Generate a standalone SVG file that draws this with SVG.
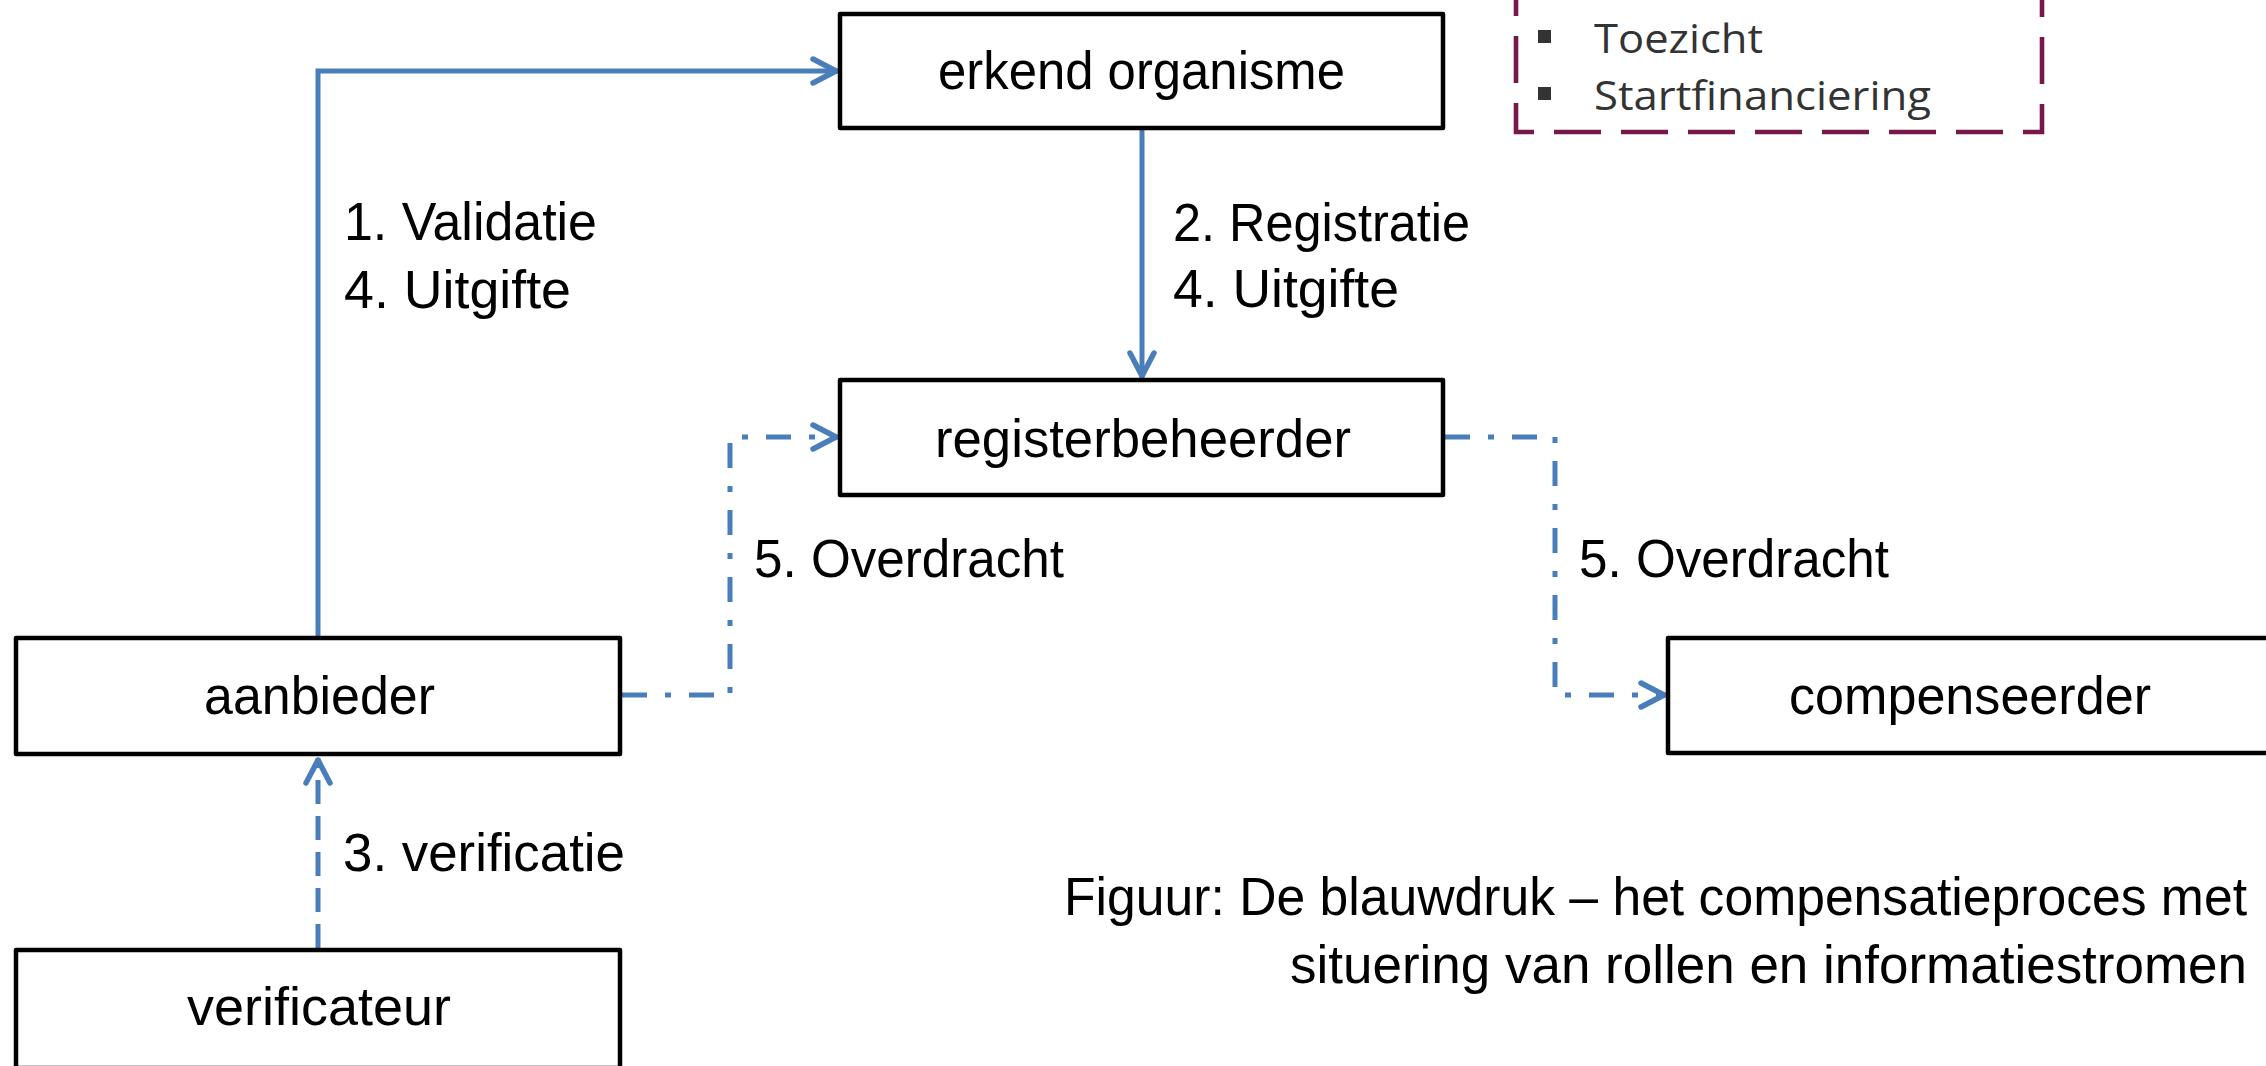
<svg xmlns="http://www.w3.org/2000/svg" width="2266" height="1066" viewBox="0 0 2266 1066">
<style>
.box{fill:#fff;stroke:#000;stroke-width:4.5;stroke-linejoin:round}
.lbl{font-family:"Liberation Sans",Arial,sans-serif;font-size:53px;fill:#000}
.lg{font-family:"Open Sans","Noto Sans",sans-serif;font-size:40px;fill:#333}
.c{fill:none;stroke:#4a7ebb;stroke-width:5}
.dash{stroke-dasharray:24 12}
.dd{stroke-dasharray:25 18 6 18}
</style>
<defs>
<marker id="arr" markerUnits="userSpaceOnUse" viewBox="-30 -20 40 40" markerWidth="40" markerHeight="40" refX="0" refY="0" orient="auto">
<path d="M-25,-12 L-2,0 L-25,12" fill="none" stroke="#4a7ebb" stroke-width="5.5" stroke-linecap="round" stroke-linejoin="round"/>
</marker>
</defs>
<rect width="2266" height="1066" fill="#fff"/>

<g id="legend">
<rect x="1516" y="-40" width="526" height="172" fill="none" stroke="#76184a" stroke-width="4.6" stroke-dasharray="47 20"/>
<rect x="1538" y="30" width="13" height="13" fill="#333"/>
<rect x="1538" y="87" width="13" height="13" fill="#333"/>
<text class="lg" x="1594" y="53" textLength="169" lengthAdjust="spacingAndGlyphs">Toezicht</text>
<text class="lg" x="1594" y="110" textLength="337" lengthAdjust="spacingAndGlyphs">Startfinanciering</text>
</g>

<g id="connectors">
<path class="c" d="M318,636 V71 H838" marker-end="url(#arr)"/>
<path class="c" d="M1142,130 V378" marker-end="url(#arr)"/>
<path class="c dash" d="M318,948 V758" marker-end="url(#arr)"/>
<path class="c dd" d="M622,695 H730 V437 H838" marker-end="url(#arr)"/>
<path class="c dd" d="M1445,437 H1555 V695 H1666" marker-end="url(#arr)"/>
<text class="lbl" x="344" y="240" textLength="253" lengthAdjust="spacingAndGlyphs">1. Validatie</text>
<text class="lbl" x="344" y="308" textLength="227" lengthAdjust="spacingAndGlyphs">4. Uitgifte</text>
<text class="lbl" x="1173" y="241" textLength="297" lengthAdjust="spacingAndGlyphs">2. Registratie</text>
<text class="lbl" x="1173" y="307" textLength="226" lengthAdjust="spacingAndGlyphs">4. Uitgifte</text>
<text class="lbl" x="754" y="577" textLength="310" lengthAdjust="spacingAndGlyphs">5. Overdracht</text>
<text class="lbl" x="1579" y="577" textLength="310" lengthAdjust="spacingAndGlyphs">5. Overdracht</text>
<text class="lbl" x="343" y="871" textLength="282" lengthAdjust="spacingAndGlyphs">3. verificatie</text>
</g>

<g id="erkend-organisme">
<rect class="box" x="840" y="14" width="603" height="114"/>
<text class="lbl" x="938" y="89" textLength="407" lengthAdjust="spacingAndGlyphs">erkend organisme</text>
</g>
<g id="registerbeheerder">
<rect class="box" x="840" y="380" width="603" height="115"/>
<text class="lbl" x="935" y="457" textLength="416" lengthAdjust="spacingAndGlyphs">registerbeheerder</text>
</g>
<g id="aanbieder">
<rect class="box" x="16" y="638" width="604" height="116"/>
<text class="lbl" x="204" y="714" textLength="231" lengthAdjust="spacingAndGlyphs">aanbieder</text>
</g>
<g id="verificateur">
<rect class="box" x="16" y="950" width="604" height="118"/>
<text class="lbl" x="187" y="1025" textLength="264" lengthAdjust="spacingAndGlyphs">verificateur</text>
</g>
<g id="compenseerder">
<rect class="box" x="1668" y="638" width="606" height="115"/>
<text class="lbl" x="1789" y="714" textLength="362" lengthAdjust="spacingAndGlyphs">compenseerder</text>
</g>

<g id="caption">
<text class="lbl" x="2247" y="915" text-anchor="end" textLength="1183" lengthAdjust="spacingAndGlyphs">Figuur: De blauwdruk – het compensatieproces met</text>
<text class="lbl" x="2247" y="983" text-anchor="end" textLength="957" lengthAdjust="spacingAndGlyphs">situering van rollen en informatiestromen</text>
</g>
</svg>
